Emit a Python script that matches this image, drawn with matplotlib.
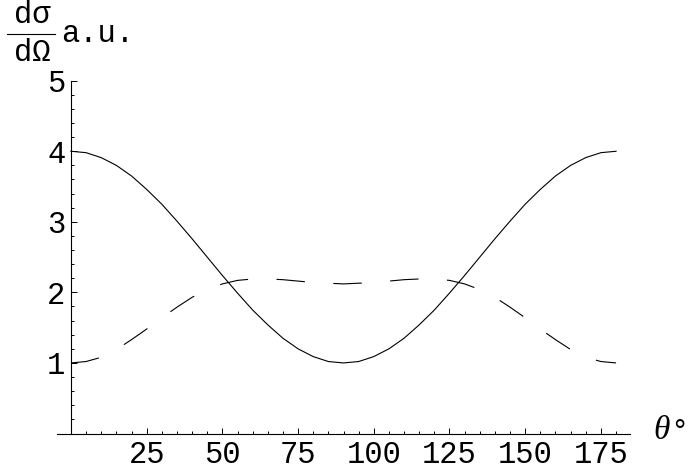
import matplotlib
matplotlib.use("Agg")
import matplotlib.pyplot as plt
from matplotlib.ticker import MultipleLocator

# angles in degrees
theta = [0, 5, 10, 15, 20, 25, 30, 35, 40, 45, 50, 55, 60, 65, 70, 75, 80, 85, 90,
         95, 100, 105, 110, 115, 120, 125, 130, 135, 140, 145, 150, 155, 160, 165, 170, 175, 180]
solid = [4.00, 3.98, 3.91, 3.80, 3.65, 3.46, 3.25, 3.01, 2.76, 2.50, 2.24, 1.99, 1.75, 1.54, 1.35, 1.20, 1.09, 1.02, 1.00,
         1.02, 1.09, 1.20, 1.35, 1.54, 1.75, 1.99, 2.24, 2.50, 2.76, 3.01, 3.25, 3.46, 3.65, 3.80, 3.91, 3.98, 4.00]
dashed = [1.00, 1.02, 1.08, 1.19, 1.33, 1.48, 1.64, 1.79, 1.93, 2.04, 2.12, 2.17, 2.19, 2.19, 2.18, 2.16, 2.14, 2.13, 2.12,
          2.13, 2.14, 2.16, 2.18, 2.19, 2.19, 2.17, 2.12, 2.04, 1.93, 1.79, 1.64, 1.48, 1.33, 1.19, 1.08, 1.02, 1.00]
xticks = [25, 50, 75, 100, 125, 150, 175]
yticks = [1, 2, 3, 4, 5]

plt.rcParams['lines.scale_dashes'] = False
W, H = 688, 469
fig = plt.figure(figsize=(W/100, H/100), dpi=100)
ax = fig.add_axes([57/W, 1-433.5/H, (630-57)/W, (433.5-80.7)/H])
ax.set_xlim(-4.6, 184.6); ax.set_ylim(0, 5)
ax.patch.set_visible(False)

ax.plot(theta, solid, color="black", lw=0.8)
ax.plot(theta, dashed, color="black", lw=0.8, linestyle=(0, (20.5, 20.5)))

for s in ["top", "right"]: ax.spines[s].set_visible(False)
for s in ["left", "bottom"]: ax.spines[s].set_linewidth(0.8)
ax.spines["left"].set_position(("data", 0))
ax.spines["left"].set_bounds(0, 5)

mono = "Liberation Mono"; fs = 22
ax.set_xticks(xticks); ax.set_yticks(yticks)
ax.xaxis.set_minor_locator(MultipleLocator(5)); ax.yaxis.set_minor_locator(MultipleLocator(0.2))
ax.tick_params(which="both", direction="in", width=0.7, labelsize=fs)
ax.tick_params(which="major", length=4.5)
ax.tick_params(which="minor", length=2.5)
ax.tick_params(axis="x", pad=5); ax.tick_params(axis="y", pad=4)
for lab in ax.get_xticklabels() + ax.get_yticklabels(): lab.set_family(mono)

# y label: d sigma / d Omega  a.u.
fig.text(32/W, 1-15/H, "dσ", family=mono, fontsize=fs, ha="center", va="center")
fig.text(32/W, 1-53/H, "dΩ", family=mono, fontsize=fs, ha="center", va="center")
fig.add_artist(plt.Line2D([7/W, 55/W], [1-34/H, 1-34/H], color="black", lw=0.8))
fig.text(61/W, 1-42/H, "a.u.", family=mono, fontsize=fs, ha="left", va="baseline")

# x label
fig.text(653/W, 1-431/H, "θ", family="Liberation Serif", style="italic", fontsize=24, ha="left", va="center")
fig.text(670/W, 1-432/H, "°", family=mono, fontsize=fs, ha="left", va="center")

fig.savefig("out.png", dpi=100)
